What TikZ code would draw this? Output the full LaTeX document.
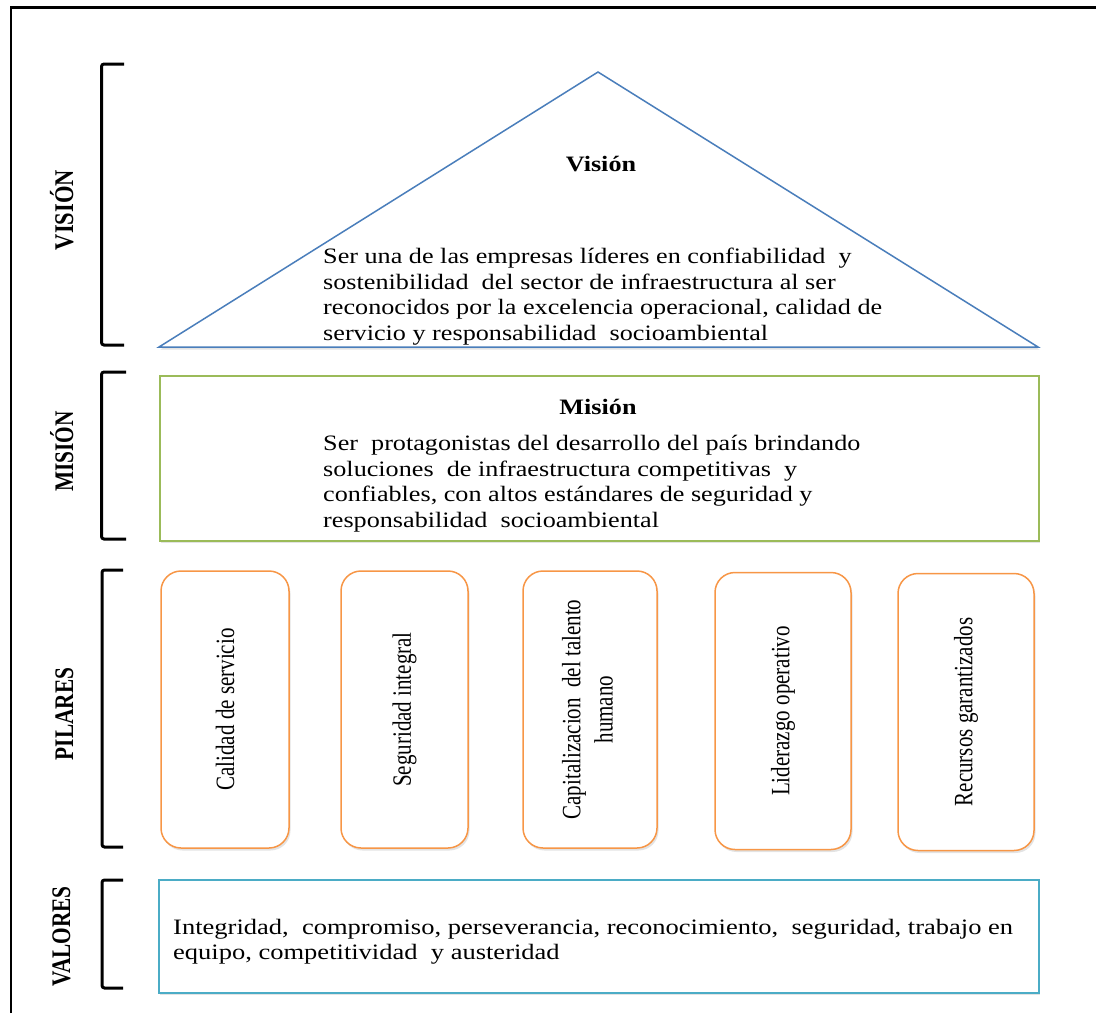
\documentclass[tikz,border=0pt]{standalone}
\usepackage{fontspec}
\usepackage{graphicx}
\setmainfont{Liberation Serif}
\newfontfamily\widefont{Liberation Serif}[FakeStretch=1.19]
\newfontfamily\widerfont{Liberation Serif}[FakeStretch=1.205]
\usetikzlibrary{shadows}

\definecolor{visblue}{HTML}{4A7EBB}
\definecolor{misgreen}{HTML}{9BBB59}
\definecolor{pilorange}{HTML}{F79646}
\definecolor{valblue}{HTML}{4BACC6}

% tall glyphs for the upright (rotated) labels
\newcommand{\tallset}[2][1.26]{\scalebox{1}[#1]{#2}}

\begin{document}
\begin{tikzpicture}[x=1pt,y=-1pt,
  bracket/.style={line width=3pt, rounded corners=2.5pt},
  sidelabel/.style={rotate=90, anchor=base, font=\fontsize{21.3}{26}\selectfont\bfseries, inner sep=0},
  body/.style={font=\widefont\fontsize{22}{25.5}\selectfont, align=left, anchor=north west, inner sep=0},
  heading/.style={font=\widefont\fontsize{22}{25.5}\selectfont\bfseries, inner sep=0},
  softshadow/.style={drop shadow={opacity=0.22, shadow xshift=1.5pt, shadow yshift=-2.5pt}},
  pillar/.style={draw=pilorange, line width=1.5pt, rounded corners=20pt, fill=white, softshadow,
    minimum height=277pt, inner sep=0},
  pilltext/.style={rotate=90, font=\fontsize{21}{25.6}\selectfont, inner sep=0}
]
\useasboundingbox (0,0) rectangle (1096,1013);

% outer frame (top and left edges)
\draw[line width=2.5pt] (11,1013) -- (11,7.5) -- (1096,7.5);

% side brackets and their labels
\draw[bracket] (124,64) -- (101.5,64) -- (101.5,345) -- (124,345);
\draw[bracket] (126,372) -- (101.5,372) -- (101.5,539) -- (126,539);
\draw[bracket] (123,570) -- (102,570) -- (102,847) -- (123,847);
\draw[bracket] (123,880) -- (102,880) -- (102,988) -- (123,988);
\node[sidelabel, font=\fontsize{22.5}{26}\selectfont\bfseries] (lvision) at (73,210) {\tallset[1.2]{VISIÓN}};
\node[sidelabel] (lmision) at (73,451.5) {\tallset{MISIÓN}};
\node[sidelabel] (lpilares) at (73,714) {\tallset{PILARES}};
\node[sidelabel] (lvalores) at (70,936.5) {\tallset{VALORES}};

% roof: vision triangle
\coordinate (roofL) at (159,347);
\coordinate (apex) at (598,72);
\coordinate (roofR) at (1038,347);
\draw[visblue, line width=1.5pt, fill=white, softshadow] (roofL) -- (apex) -- (roofR) -- cycle;
\node[heading] (vtitle) at (601,164) {Visión};
\node[body] (vtext) at (323,248) {Ser una de las empresas líderes en confiabilidad\ \ y\\
sostenibilidad\ \ del sector de infraestructura al ser\\
reconocidos por la excelencia operacional, calidad de\\
servicio y responsabilidad\ \ socioambiental};

% mission box
\node[draw=misgreen, line width=1.5pt, fill=white, softshadow, anchor=north west, inner sep=0,
  minimum width=879pt, minimum height=165pt] (misbox) at (159,375) {};
\node[heading] (mtitle) at (598,407) {Misión};
\node[body] (mtext) at (323,435) {Ser\ \ protagonistas del desarrollo del país brindando\\
soluciones\ \ de infraestructura competitivas\ \ y\\
confiables, con altos estándares de seguridad y\\
responsabilidad\ \ socioambiental};

% pillars
\node[pillar, minimum width=128pt] (p1) at (225,709.5) {};
\node[pillar, minimum width=127pt] (p2) at (404.5,709.5) {};
\node[pillar, minimum width=134pt] (p3) at (590,709.5) {};
\node[pillar, minimum width=136pt] (p4) at (783,711) {};
\node[pillar, minimum width=136pt] (p5) at (966,712) {};
\node[pilltext] (t1) at (p1.center) {\tallset{Calidad de servicio}};
\node[pilltext] (t2) at (p2.center) {\tallset{Seguridad integral}};
\node[pilltext] (t3) at (p3.center) {\tallset{\begin{tabular}{@{}c@{}}Capitalizacion\ \ del talento\\ humano\end{tabular}}};
\node[pilltext] (t4) at (p4.center) {\tallset{Liderazgo operativo}};
\node[pilltext] (t5) at (p5.center) {\tallset{Recursos garantizados}};

% values box
\node[draw=valblue, line width=1.5pt, fill=white, softshadow, anchor=north west, inner sep=0,
  minimum width=880pt, minimum height=113pt] (valbox) at (158,879) {};
\node[body, font=\widerfont\fontsize{22}{25.5}\selectfont] (valtext) at (173,919) {Integridad,\ \ compromiso, perseverancia, reconocimiento,\ \ seguridad, trabajo en\\
equipo, competitividad\ \ y austeridad};
\end{tikzpicture}
\end{document}
